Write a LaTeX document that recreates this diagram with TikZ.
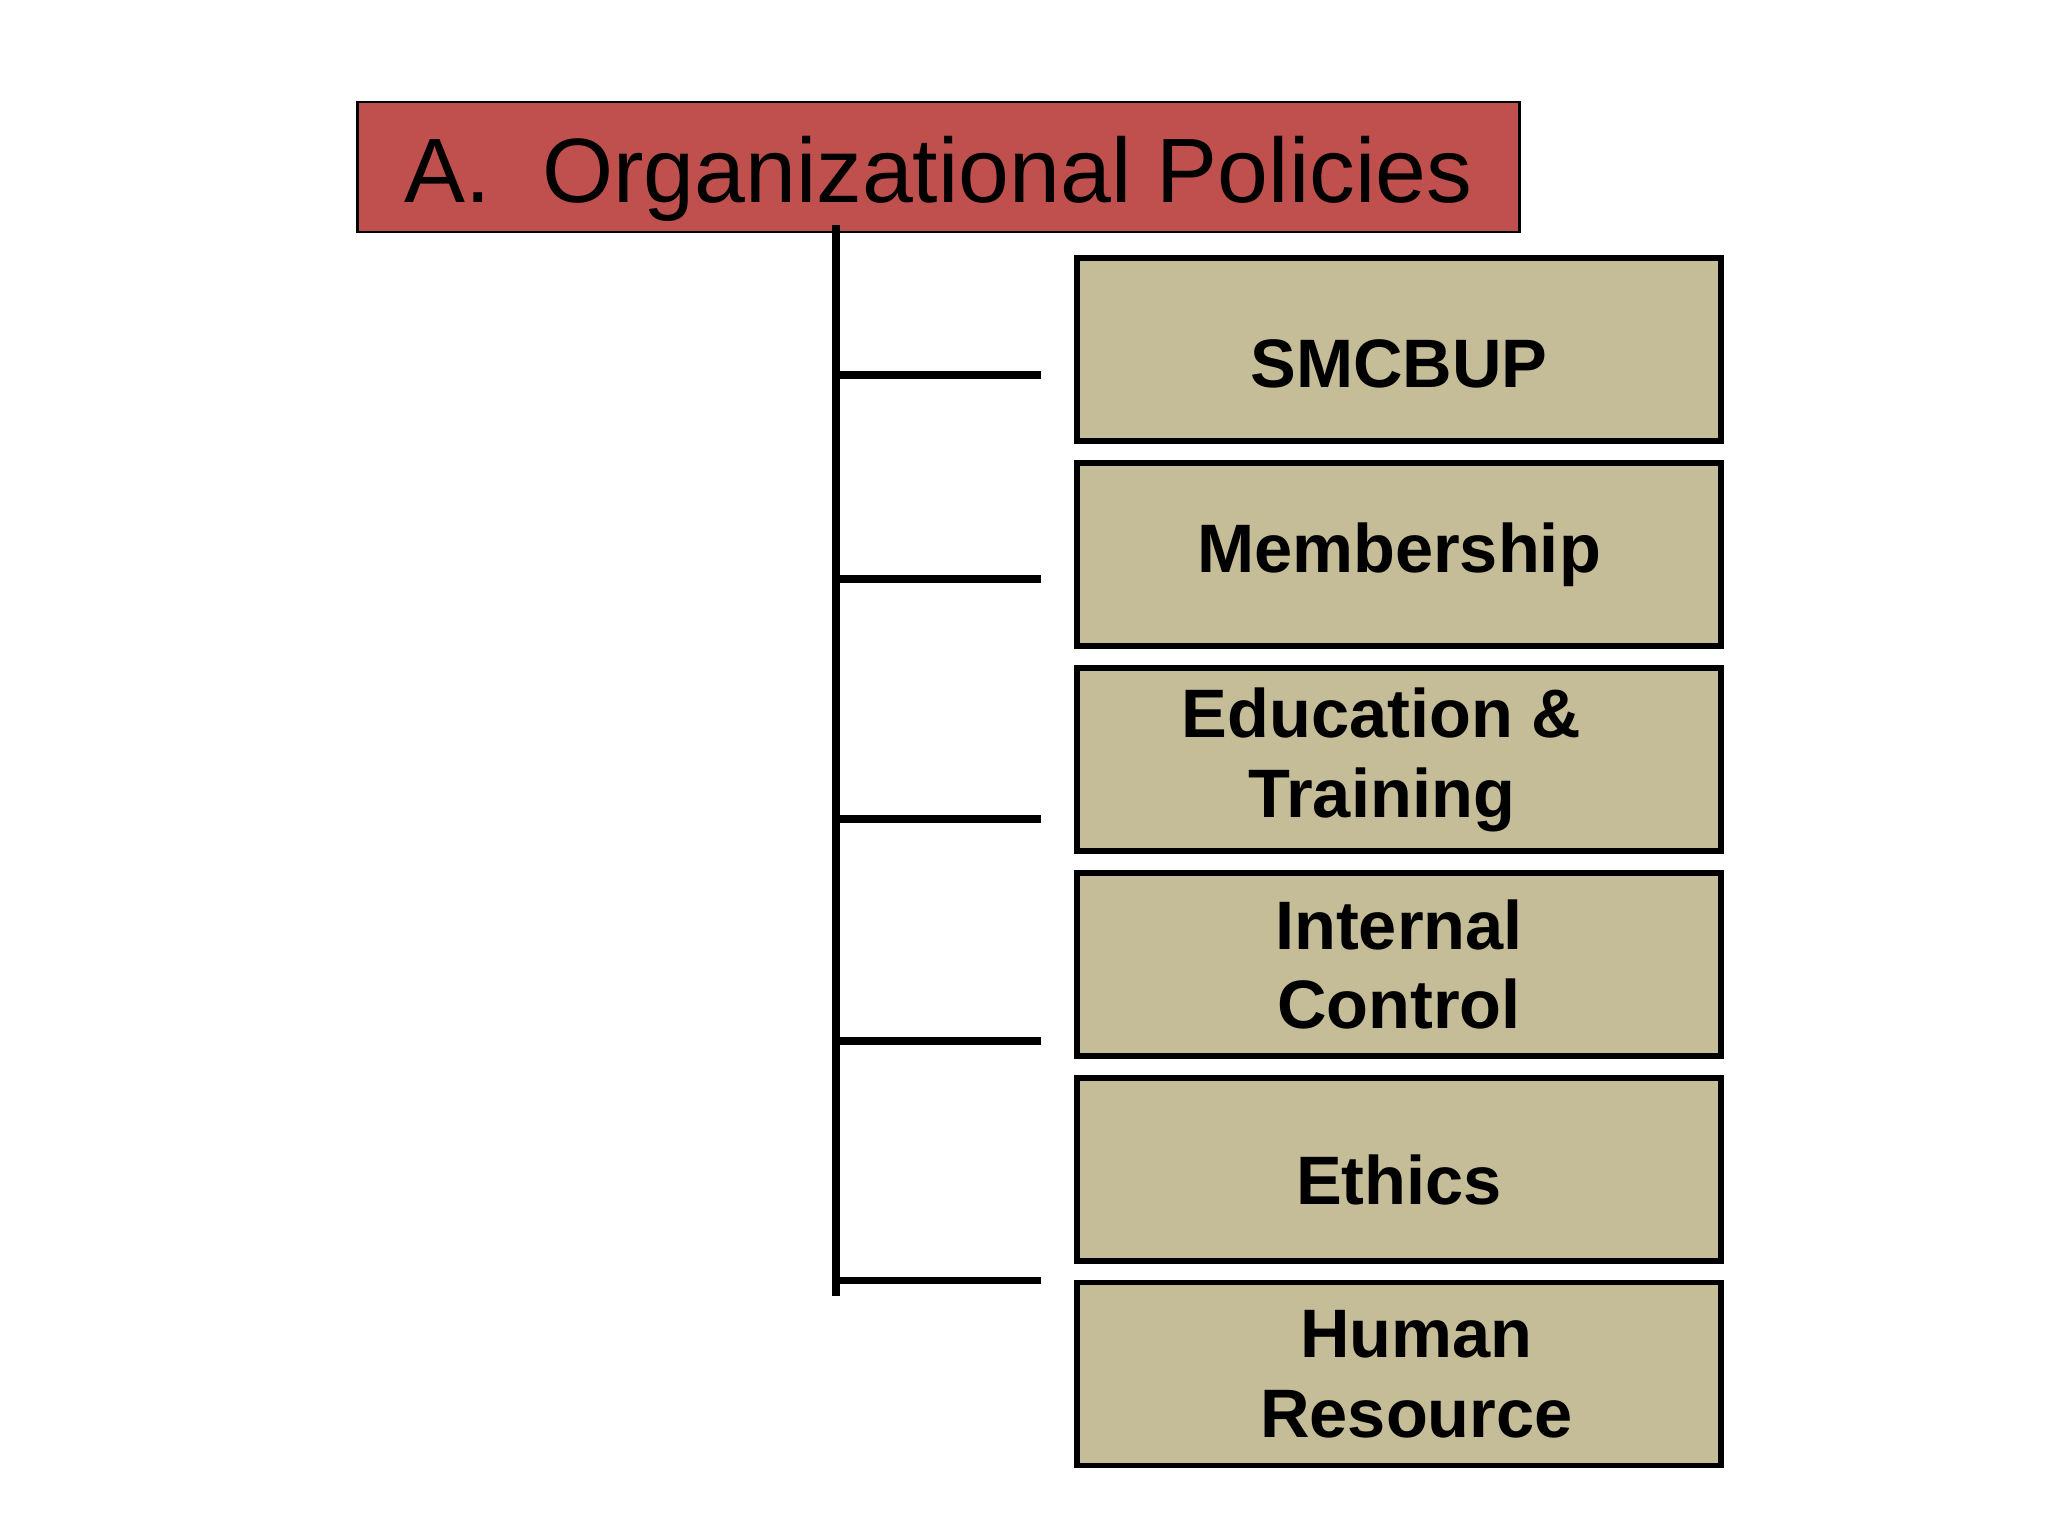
\documentclass[tikz,border=0pt]{standalone}
\usepackage{fontspec}
\setmainfont{Liberation Sans}
\usepackage{tikz}

\definecolor{titlered}{HTML}{C0504D}
\definecolor{boxtan}{HTML}{C4BD97}

\begin{document}
\begin{tikzpicture}[x=0.01cm, y=-0.01cm,
		titlebox/.style={draw=black, line width=0.8pt, fill=titlered, inner sep=0pt,
			minimum width=11.61cm, minimum height=1.30cm, text height=0.9cm, text depth=0.2cm,
			font=\fontsize{26}{31}\selectfont},
		itembox/.style={draw=black, line width=1.6pt, fill=boxtan, inner sep=0pt,
			minimum width=6.44cm, minimum height=1.83cm, align=center,
			font=\fontsize{19.5}{22.7}\selectfont\bfseries},
		branch/.style={line width=2pt}]
			\useasboundingbox (0, 0) rectangle (2048, 1536);
			
			\node[titlebox] (title) at (938.5, 167) {A.\ \ Organizational Policies};
			
			\node[itembox, text height=0.75cm, text depth=0cm] (smcbup) at (1399, 349.5) {SMCBUP};
			\node[itembox] (member) at (1399, 554.5) {Membership};
			\node[itembox] (educ) at (1399, 759.5) {\hspace*{-0.35cm}Education \&\\\hspace*{-0.35cm}Training};
			\node[itembox] (intctl) at (1399, 964.5) {Internal\\Control};
			\node[itembox, text height=0.69cm, text depth=0cm] (ethics) at (1399, 1169.5) {Ethics};
			\node[itembox] (humres) at (1399, 1374) {\hspace*{0.35cm}Human\\\hspace*{0.35cm}Resource};
			
			\coordinate (top) at (836, 225);
			\coordinate (bottom) at (836, 1296);
			\coordinate (b1) at (1041, 375);
			\coordinate (b2) at (1041, 579);
			\coordinate (b3) at (1041, 819);
			\coordinate (b4) at (1041, 1041);
			\coordinate (b5) at (1041, 1280);
			
			\draw[branch] (top) -- (bottom);
			\draw[branch] (b1 -| top) -- (b1);
			\draw[branch] (b2 -| top) -- (b2);
			\draw[branch] (b3 -| top) -- (b3);
			\draw[branch] (b4 -| top) -- (b4);
			\draw[branch] (b5 -| top) -- (b5);
			
		\end{tikzpicture}
\end{document}
